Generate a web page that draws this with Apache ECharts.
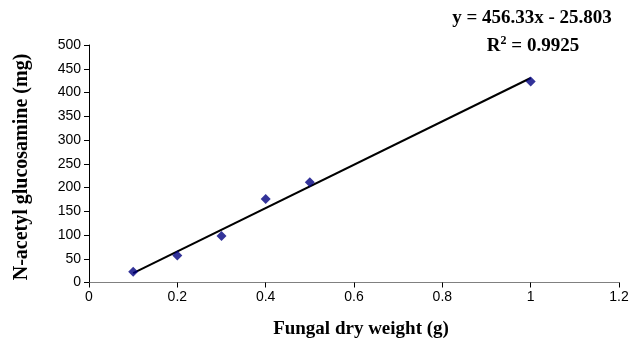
<!DOCTYPE html>
<html><head><meta charset="utf-8">
<script src="https://cdn.jsdelivr.net/npm/echarts@6/dist/echarts.min.js"></script>
<style>html,body{margin:0;padding:0;background:#fff}#c{width:634px;height:338px}</style>
</head><body><div id="c"></div>
<script>
const xValues = [0.1, 0.2, 0.3, 0.4, 0.5, 1.0];
const yValues = [22.8, 57, 98, 176, 211, 423];
const slope = 456.33;
const intercept = -25.803;
const trendX = [0.1, 1.0];
const equationText = 'y = 456.33x - 25.803';
const r2Text = '0.9925';

const chart = echarts.init(document.getElementById('c'));
const serif = '"Liberation Serif","Times New Roman",serif';
const sans = '"Liberation Sans",Arial,sans-serif';
chart.setOption({
  animation: false,
  backgroundColor: '#fff',
  grid: {left: 89, right: 15, top: 45, bottom: 55.5},
  xAxis: {
    type: 'value', min: 0, max: 1.2, interval: 0.2,
    axisLine: {lineStyle: {color: '#808080', width: 1}},
    axisTick: {show: true, length: 5, lineStyle: {color: '#000'}},
    splitLine: {show: false},
    axisLabel: {color: '#000', fontFamily: sans, fontSize: 14, margin: 8,
      formatter: v => String(Math.round(v*10)/10)}
  },
  yAxis: {
    type: 'value', min: 0, max: 500, interval: 50,
    axisLine: {show: true, lineStyle: {color: '#000', width: 1}},
    axisTick: {show: true, length: 5, lineStyle: {color: '#000'}},
    splitLine: {show: false},
    axisLabel: {color: '#000', fontFamily: sans, fontSize: 14, margin: 8}
  },
  series: [
    {type: 'line', data: trendX.map(x => [x, slope*x + intercept]), symbol: 'none',
     lineStyle: {color: '#000', width: 2}, z: 2},
    {type: 'scatter', data: xValues.map((x,i) => [x, yValues[i]]), symbol: 'diamond',
     symbolSize: 10, itemStyle: {color: '#000080'}, z: 3}
  ],
  graphic: [
    {type: 'text', x: 361, y: 329, style: {text: 'Fungal dry weight (g)', font: 'bold 19px ' + serif,
      fill: '#000', textAlign: 'center', textVerticalAlign: 'middle'}},
    {type: 'text', x: 22, y: 167, rotation: Math.PI/2, style: {text: 'N-acetyl glucosamine (mg)',
      font: 'bold 20px ' + serif, fill: '#000', textAlign: 'center', textVerticalAlign: 'middle'}},
    {type: 'text', x: 532, y: 18, style: {text: equationText, font: 'bold 19px ' + serif,
      fill: '#000', textAlign: 'center', textVerticalAlign: 'middle'}},
    {type: 'text', x: 533, y: 46, style: {text: '{r|R}{s|2}{r| = ' + r2Text + '}',
      textAlign: 'center', textVerticalAlign: 'middle',
      rich: {r: {font: 'bold 19px ' + serif, color: '#000'},
             s: {font: 'bold 12px ' + serif, color: '#000', verticalAlign: 'top', padding: [0,0,10,0]}}}}
  ]
});
</script></body></html>
